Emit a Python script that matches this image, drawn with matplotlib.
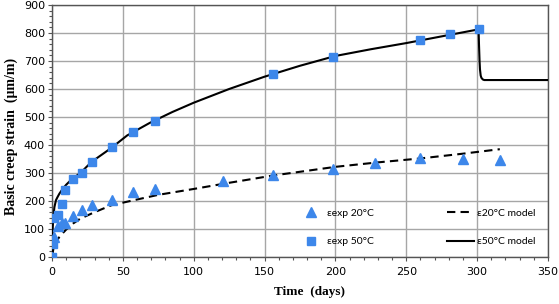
"""Basic creep strain vs time: measured points at 20 and 50 degC with model curves."""
import matplotlib
matplotlib.use("Agg")
import matplotlib.pyplot as plt
from matplotlib.ticker import MultipleLocator

# measured creep, 20 degC (days, um/m)
exp20_t = [0, 1.4, 4, 7, 9, 15, 21, 28, 42, 57, 73, 121, 156, 198, 228, 260, 290, 316]
exp20_y = [0, 73, 111, 122, 120, 145, 169, 186, 205, 232, 244, 270, 293, 315, 334, 352, 350, 345]

# measured creep, 50 degC
exp50_t = [0, 0.8, 1.5, 4, 7, 9, 15, 21, 28, 42, 57, 73, 156, 198, 260, 281, 301]
exp50_y = [0, 45, 138, 150, 190, 240, 280, 300, 341, 392, 447, 486, 654, 714, 774, 795, 814]

# model curves
model20_t = [0, 1, 2, 3, 5, 7, 10, 15, 20, 30, 42, 57, 75, 100, 125, 156, 200, 230, 260, 290, 316]
model20_y = [0, 30, 45, 55, 70, 82, 98, 120, 137, 160, 185, 202, 222, 243, 265, 291, 322, 338, 352, 369, 385]

model50_t = [0, 0.2, 0.5, 1, 1.7, 2.8, 4, 5.2, 7.5, 10, 14, 20, 28, 42, 53, 69, 85, 100,
             125, 150, 175, 200, 225, 250, 275, 300, 301, 301.3, 301.7, 302, 302.5, 303,
             304, 305, 350]
model50_y = [0, 60, 105, 145, 178, 203, 215, 226, 243, 258, 278, 300, 340, 390, 434, 479, 518, 551,
             600, 644, 683, 718, 742, 764, 788, 812, 814, 760, 700, 670, 648, 640,
             634, 632, 632]

BLUE = "#3d87ea"
GRID = "#a6a6a6"

fig = plt.figure(figsize=(5.59, 3.04), dpi=100)
ax = fig.add_axes([52 / 559, 1 - 257 / 304, 496 / 559, 252 / 304])

ax.plot(exp20_t, exp20_y, ls="none", marker="^", ms=6.5, color=BLUE, label="εexp 20°C", zorder=4)
ax.plot(exp50_t, exp50_y, ls="none", marker="s", ms=6, color=BLUE, label="εexp 50°C", zorder=4)
ax.plot(model20_t, model20_y, color="black", lw=1.5, dashes=(4, 2.5), label="ε20°C model", zorder=3)
ax.plot(model50_t, model50_y, color="black", lw=1.5, label="ε50°C model", zorder=3)

ax.set_xlim(0, 350)
ax.set_ylim(0, 900)
ax.xaxis.set_major_locator(MultipleLocator(50))
ax.xaxis.set_minor_locator(MultipleLocator(10))
ax.yaxis.set_major_locator(MultipleLocator(100))
ax.yaxis.set_minor_locator(MultipleLocator(20))
ax.grid(True, which="major", color=GRID, lw=1.0)
ax.set_axisbelow(True)
for s in ax.spines.values():
    s.set_color("#555555")
    s.set_linewidth(1.0)
ax.tick_params(which="major", direction="out", length=3, width=0.8, color="#555555",
               labelsize=8)
ax.tick_params(axis="x", which="major", pad=4)
ax.tick_params(axis="y", which="major", pad=2)
ax.tick_params(which="minor", direction="out", length=2.5, width=0.8, color="#555555")

serif = {"family": "Liberation Serif", "weight": "bold", "size": 9.5}
ax.set_xlabel("Time  (days)", fontdict=serif, labelpad=5)
ax.xaxis.set_label_coords(0.52, -0.115)
ax.set_ylabel("Basic creep strain  (μm/m)", fontdict={**serif, "size": 10}, labelpad=4)
ax.yaxis.set_label_coords(-0.068, 0.48)

ax.legend(ncol=2, frameon=False, prop={"family": "Lato", "size": 7.5}, loc="lower left",
          bbox_to_anchor=(0.475, 0.005), handlelength=2.6, handletextpad=0.3,
          columnspacing=7.0, labelspacing=1.85)

fig.savefig("out.png", dpi=100)
